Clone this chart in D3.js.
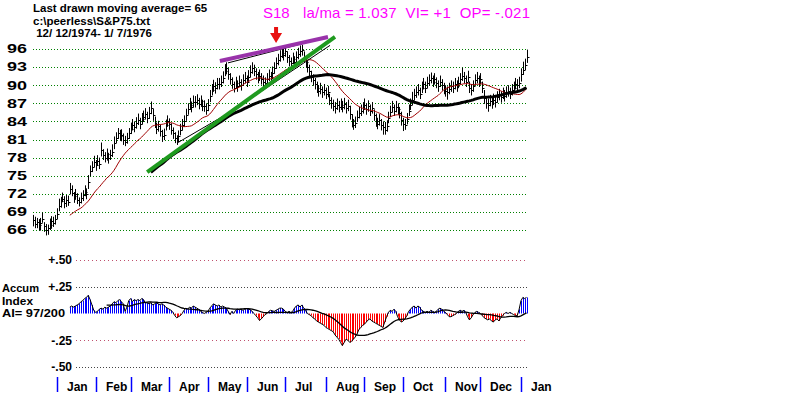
<!DOCTYPE html>
<html>
<head>
<meta charset="utf-8">
<script src="https://cdn.jsdelivr.net/npm/d3@7"></script>
<style>
  body { margin: 0; background: #fff; }
  svg { display: block; font-family: "Liberation Sans", Arial, sans-serif; }
</style>
</head>
<body>
<svg id="chart" width="800" height="393"></svg>
<script>
/* data */
const months = ["Jan", "Feb", "Mar", "Apr", "May", "Jun", "Jul", "Aug", "Sep", "Oct", "Nov", "Dec", "Jan"];
// trading-day index where each month starts
const monthStart = [13, 34, 53, 74, 95, 116, 137, 159, 180, 201, 224, 243, 265];
const priceTicks = [96, 93, 90, 87, 84, 81, 78, 75, 72, 69, 66];
const aiTicks = [0.5, 0.25, -0.25, -0.5];
const aiTickLabels = ["+.50", "+.25", "-.25", "-.50"];

// daily S&P bars, 12/12/1974 - 1/7/1976
const closes = [
  67.6,67.0,67.4,66.8,67.2,67.8,66.6,66.0,66.3,66.9,67.5,67.1,67.8,68.6,
  70.0,70.8,71.2,70.5,71.0,70.6,
  72.8,72.2,71.6,71.9,71.0,70.6,71.3,71.8,72.3,72.0,
  74.0,75.8,76.4,77.2,76.8,77.5,77.0,79.2,
  78.4,78.0,78.6,77.9,78.5,79.0,80.5,81.3,82.0,81.6,
  81.8,81.0,80.6,81.2,82.0,82.8,83.4,83.0,83.8,84.2,83.6,84.4,84.8,
  85.2,84.6,85.4,86.2,85.0,83.6,82.8,83.2,82.4,81.5,81.8,
  83.4,84.0,83.6,82.6,82.0,81.2,80.8,81.5,82.6,83.4,84.0,85.0,
  86.0,86.8,86.4,87.2,87.2,87.6,86.9,87.3,86.6,86.5,85.9,86.7,
  88.2,89.2,89.8,89.5,90.2,90.2,90.6,91.2,92.4,92.8,91.8,91.0,
  90.2,89.6,90.4,89.8,90.6,90.0,90.8,91.2,90.6,91.4,92.2,92.8,92.4,91.8,
  91.2,91.6,91.0,90.6,90.4,91.0,91.6,91.2,92.0,
  92.8,93.6,94.2,94.8,95.4,95.0,95.6,94.6,94.0,93.6,94.4,93.8,94.6,95.2,95.6,95.8,94.6,93.8,
  93.0,92.4,91.4,90.8,90.2,89.6,89.0,89.4,88.8,89.2,88.6,88.9,
  87.6,87.0,86.6,86.2,86.8,86.4,86.8,86.4,86.9,86.2,86.6,
  85.2,84.2,83.4,83.8,84.8,85.4,85.8,86.2,86.8,86.0,86.5,85.8,86.2,
  85.0,84.0,83.6,84.2,83.4,83.0,82.6,83.2,
  84.6,85.6,86.4,85.8,86.4,86.0,85.4,84.2,83.6,83.4,84.4,
  85.8,86.8,87.6,88.4,88.8,89.2,88.6,89.6,90.2,89.6,90.4,
  90.8,91.2,90.6,91.0,90.4,89.8,90.6,90.0,89.4,89.0,88.8,
  89.4,89.8,89.6,90.2,89.8,90.4,91.0,91.6,91.2,90.6,91.4,
  89.6,89.2,89.8,90.8,91.2,90.6,91.0,89.6,
  87.8,87.0,86.8,87.4,87.0,87.6,87.2,88.0,88.4,88.0,88.6,88.2,
  88.8,89.0,88.6,89.2,89.6,90.2,90.0,90.4,91.8,92.6,93.4,94.6
];
const highs = [
  68.5,68.2,68.0,67.8,68.0,68.9,67.3,67.0,66.9,67.9,68.3,68.2,68.5,69.6,
  71.2,71.5,72.2,71.6,71.8,71.7,
  73.8,73.4,72.3,72.8,72.1,71.4,72.2,72.6,73.4,72.9,
  75.1,76.7,77.4,78.3,77.6,78.4,78.0,80.5,
  79.4,78.9,79.5,78.8,79.3,80.2,81.5,82.2,82.9,82.6,
  82.7,82.0,81.6,82.1,82.9,83.8,84.4,84.0,84.7,85.3,84.6,85.4,85.8,
  86.2,85.6,86.4,87.3,86.1,84.8,83.8,84.1,83.4,82.6,82.8,
  84.3,85.0,84.5,83.7,83.0,82.2,81.7,82.5,83.6,84.4,85.0,86.1,
  87.0,87.9,87.3,88.3,88.2,88.5,87.9,88.3,87.6,87.5,87.0,87.7,
  89.2,90.2,90.9,90.5,91.2,91.2,91.6,92.3,93.5,93.8,92.8,92.0,
  91.3,90.6,91.4,90.8,91.6,91.0,91.8,92.2,91.6,92.5,93.3,93.8,93.4,92.8,
  92.2,92.6,92.0,91.6,91.3,92.0,92.6,92.2,93.1,
  93.8,94.6,95.2,95.8,96.4,96.0,96.6,95.6,95.0,94.6,95.4,94.8,95.6,96.2,96.6,96.7,95.6,94.8,
  94.0,93.4,92.4,91.8,91.2,90.6,90.0,90.4,89.8,90.2,89.6,89.9,
  88.6,88.0,87.6,87.2,87.8,87.4,87.8,87.4,87.9,87.2,87.6,
  86.6,85.2,84.4,84.8,85.8,86.4,86.8,87.2,87.8,87.0,87.5,86.8,87.2,
  86.0,85.3,84.6,85.2,84.4,84.0,83.9,84.2,
  85.6,86.6,87.4,86.8,87.4,87.0,86.4,85.6,84.6,84.4,85.4,
  86.8,87.8,88.9,89.4,89.8,90.2,89.6,90.6,91.2,90.6,91.4,
  91.8,92.1,91.6,92.0,91.3,90.8,91.6,91.0,90.4,90.0,89.8,
  90.4,90.8,90.6,91.2,90.8,91.4,92.0,92.9,92.2,91.6,92.4,
  90.6,90.2,90.8,91.8,92.2,91.6,92.0,90.6,
  89.2,88.0,87.8,88.4,88.0,88.6,88.2,89.0,89.4,89.0,89.6,89.2,
  89.8,90.0,89.6,90.2,90.6,91.2,91.0,91.4,92.8,93.9,94.4,95.9
];
const lows = [
  66.6,66.3,66.3,65.9,65.9,67.2,65.7,65.1,65.2,66.0,66.2,66.5,66.9,67.8,
  69.1,69.7,70.6,69.6,69.8,70.0,
  71.9,71.6,70.5,71.0,70.3,69.9,70.4,70.8,71.6,71.1,
  72.8,74.9,75.6,76.4,75.8,76.6,76.1,78.2,
  77.6,77.2,77.5,77.0,77.6,78.1,79.4,80.4,81.1,80.8,
  80.7,80.1,79.9,80.3,81.1,81.9,82.5,82.2,82.8,83.4,82.7,83.5,83.9,
  84.3,83.7,84.4,85.2,84.1,82.9,81.9,82.3,81.5,80.6,80.9,
  82.5,83.1,82.6,81.8,81.1,80.4,80.1,80.6,81.7,82.5,83.1,84.1,
  85.1,85.9,85.5,86.3,86.3,86.7,86.0,86.4,85.7,85.6,85.1,85.7,
  87.2,88.3,88.9,88.6,89.3,89.3,89.7,90.3,91.5,91.8,90.9,90.1,
  89.4,88.8,89.5,88.9,89.7,89.1,89.9,90.3,89.7,90.5,91.3,91.9,91.5,90.9,
  90.3,90.7,90.1,89.7,89.5,90.1,90.7,90.3,91.1,
  91.9,92.7,93.3,93.9,94.5,94.1,94.7,93.7,93.1,92.7,93.5,92.9,93.7,94.3,94.7,94.9,93.7,92.9,
  92.1,91.5,90.5,89.9,89.3,88.7,88.1,88.5,87.9,88.3,87.7,88.0,
  86.7,86.1,85.7,85.3,85.9,85.5,85.9,85.5,86.0,85.3,85.7,
  84.3,83.0,82.6,82.9,83.9,84.5,84.9,85.3,85.9,85.1,85.6,84.9,85.3,
  84.1,83.1,82.7,83.3,82.5,81.8,81.8,82.3,
  83.7,84.7,85.5,84.9,85.5,85.1,84.5,83.3,82.4,82.6,83.5,
  84.9,85.9,86.7,87.5,87.9,88.3,87.7,88.7,89.3,88.7,89.5,
  89.9,90.3,89.7,90.1,89.5,88.9,89.7,89.1,88.5,88.1,87.6,
  88.5,88.9,88.7,89.3,88.9,89.5,90.1,90.7,90.3,89.7,90.5,
  88.7,88.3,88.9,89.9,90.3,89.7,90.1,88.7,
  86.9,86.1,85.6,86.5,86.1,86.7,86.3,87.1,87.5,87.1,87.7,87.3,
  87.9,88.1,87.7,88.3,88.7,89.3,89.1,89.5,90.6,91.7,92.5,93.7
];

// accumulation index, starts at trading day 20
const aiStart = 20;
const accum = [
  0.06,0.07,0.06,0.07,
  0.08,0.09,0.11,0.12,0.14,0.15,0.17,
  0.13,0.08,0.03,0.01,0.02,
  0.04,0.05,0.04,0.06,0.05,0.06,0.07,
  0.09,0.11,0.10,0.12,0.13,0.11,0.09,
  0.02,0.06,0.12,0.14,0.11,0.13,0.12,
  0.13,0.12,0.14,0.13,0.10,
  0.10,0.09,0.10,0.08,0.09,0.10,0.09,0.08,0.09,0.08,0.06,
  0.05,0.04,0.03,0.01,
  -0.02,-0.04,-0.03,-0.02,0.00,
  0.03,0.05,0.04,0.06,0.05,0.07,0.06,0.05,0.04,
  0.02,0.01,0.00,0.01,0.02,
  0.05,0.07,0.09,0.08,0.07,0.08,0.06,0.07,0.06,0.05,
  0.02,-0.01,0.02,0.00,
  0.03,0.04,0.035,0.04,0.03,0.04,0.045,0.04,0.035,0.02,
  0.00,-0.02,-0.04,-0.065,-0.05,-0.03,-0.01,0.00,
  0.02,0.03,0.025,0.02,0.03,0.04,0.05,
  0.05,0.04,0.02,0.01,0.02,0.01,0.02,
  0.05,0.07,0.08,0.06,0.08,0.05,0.03,0.00,
  -0.01,-0.02,-0.04,-0.05,-0.07,-0.08,-0.09,-0.10,-0.11,-0.13,
  -0.14,-0.15,-0.16,-0.17,-0.20,-0.22,-0.24,-0.27,-0.30,-0.27,
  -0.24,-0.25,-0.27,-0.26,-0.24,-0.22,-0.19,-0.15,-0.13,-0.11,
  -0.10,-0.08,-0.06,-0.05,-0.07,-0.08,-0.09,-0.10,-0.11,-0.12,
  -0.13,-0.08,-0.03,0.01,0.03,0.02,0.04,0.02,-0.03,-0.06,
  -0.08,-0.07,-0.05,-0.02,
  0.02,0.04,0.06,0.07,0.05,0.07,0.06,0.03,0.02,
  0.01,0.02,0.01,0.03,0.02,0.01,0.02,
  0.04,0.05,0.04,0.02,0.01,
  -0.01,-0.03,-0.03,-0.02,-0.01,0.00,
  0.02,0.03,0.02,0.03,0.01,
  -0.03,-0.06,-0.04,-0.01,
  0.01,0.02,0.01,0.00,
  -0.02,-0.04,-0.05,-0.06,-0.05,-0.07,-0.08,-0.06,-0.05,-0.07,-0.04,-0.02,
  0.00,0.01,0.00,0.01,0.00,-0.01,-0.02,-0.02,
  0.04,0.12,0.15,0.14,0.15
];

// hand-drawn trend lines, [day, price]
const greenLine = [[62, 75.6], [164, 98.0]];
const purpleLine = [[101.5, 94.0], [160.2, 98.0]];
const thinLines = [
  [[78.2, 80.4], [108, 85.7], [161.3, 96.6]],
  [[105.9, 93.7], [147.7, 97.0]]
];
const signalDay = 132;
const signalPrice = 97.0;

/* helpers */
function movingAvg(vals, n) {
  return vals.map((v, i) => i < n - 1 ? null : d3.mean(vals.slice(i - n + 1, i + 1)));
}

/* chart */
const svg = d3.select("#chart");

const x = d3.scaleLinear().domain([0, closes.length - 1]).range([33, 526.5]);
const y = d3.scaleLinear().domain([66, 96]).range([230, 49]);
const ya = d3.scaleLinear().domain([-0.5, 0.5]).range([367, 260]);
const px = i => Math.round(x(i)) + 0.5;
const crisp = v => Math.round(v) + 0.5;

// header text
[["Last drawn moving average= 65", 12], ["c:\\peerless\\S&P75.txt", 24.5], [" 12/ 12/1974- 1/ 7/1976", 37]]
  .forEach(t => {
    svg.append("text").attr("x", 33).attr("y", t[1])
      .attr("font-size", 11.5).attr("font-weight", "bold")
      .style("white-space", "pre")
      .text(t[0]);
  });

svg.append("text").attr("x", 263).attr("y", 18)
  .attr("font-size", 15).attr("fill", "#f0f")
  .text("S18");
svg.append("text").attr("x", 303).attr("y", 18)
  .attr("font-size", 15).attr("fill", "#f0f")
  .attr("textLength", 227).attr("lengthAdjust", "spacing")
  .style("white-space", "pre")
  .text("la/ma = 1.037  VI= +1  OP= -.021");

// price grid
svg.append("g").selectAll("line")
  .data(priceTicks)
  .enter().append("line")
  .attr("x1", 33).attr("x2", 528)
  .attr("y1", d => crisp(y(d))).attr("y2", d => crisp(y(d)))
  .attr("stroke", "#008000")
  .attr("stroke-dasharray", "1,2");

svg.append("g").selectAll("text")
  .data(priceTicks)
  .enter().append("text")
  .attr("x", 27).attr("y", d => y(d))
  .attr("dy", "0.36em")
  .attr("text-anchor", "end")
  .attr("font-size", 12).attr("font-weight", "bold")
  .attr("textLength", 20).attr("lengthAdjust", "spacingAndGlyphs")
  .text(d => d);

// price bars
let bars = svg.append("g").attr("stroke", "#000");
bars.selectAll(".hl")
  .data(closes)
  .enter().append("line")
  .attr("class", "hl")
  .attr("x1", (d, i) => px(i)).attr("x2", (d, i) => px(i))
  .attr("y1", (d, i) => y(highs[i])).attr("y2", (d, i) => y(lows[i]));
bars.selectAll(".cl")
  .data(closes)
  .enter().append("line")
  .attr("class", "cl")
  .attr("x1", (d, i) => px(i)).attr("x2", (d, i) => px(i) + 2)
  .attr("y1", d => crisp(y(d))).attr("y2", d => crisp(y(d)));

// moving averages
const line = d3.line()
  .defined(d => d[1] != null)
  .x(d => x(d[0])).y(d => y(d[1]));

const ma21 = movingAvg(closes, 21).map((v, i) => [i, v]);
const ma65 = movingAvg(closes, 65).map((v, i) => [i, v]);

svg.append("path").datum(ma21)
  .attr("d", line)
  .attr("fill", "none").attr("stroke", "#a00000").attr("stroke-width", 1);
svg.append("path").datum(ma65)
  .attr("d", line)
  .attr("fill", "none").attr("stroke", "#000").attr("stroke-width", 3);

// trend lines
thinLines.forEach(pts => {
  svg.append("path").datum(pts)
    .attr("d", line)
    .attr("fill", "none").attr("stroke", "#000").attr("stroke-width", 1);
});
svg.append("path").datum(greenLine)
  .attr("d", line)
  .attr("fill", "none").attr("stroke", "#1f9a1f").attr("stroke-width", 4);
svg.append("path").datum(purpleLine)
  .attr("d", line)
  .attr("fill", "none").attr("stroke", "#9933aa").attr("stroke-width", 4);

// S18 arrow
(function() {
  let tx = x(signalDay), ty = y(signalPrice);
  svg.append("path")
    .attr("d", `M${tx - 2},${ty - 16} L${tx + 2},${ty - 16} L${tx + 2},${ty - 10} L${tx + 6},${ty - 10}
      L${tx},${ty} L${tx - 6},${ty - 10} L${tx - 2},${ty - 10} Z`)
    .attr("fill", "#e81010");
})();

// accumulation index panel
svg.append("g").selectAll("line")
  .data(aiTicks)
  .enter().append("line")
  .attr("x1", 76).attr("x2", 528)
  .attr("y1", d => crisp(ya(d))).attr("y2", d => crisp(ya(d)))
  .attr("stroke", (d, i) => i % 2 == 0 ? "#c0506e" : "#444")
  .attr("stroke-dasharray", (d, i) => i % 2 == 0 ? "1,3" : "1,2");

svg.append("g").selectAll("text")
  .data(aiTicks)
  .enter().append("text")
  .attr("x", 72).attr("y", d => ya(d))
  .attr("dy", "0.36em")
  .attr("text-anchor", "end")
  .attr("font-size", 12).attr("font-weight", "bold")
  .text((d, i) => aiTickLabels[i]);

[["Accum", 292, 37], ["Index", 304.7, 31], ["AI= 97/200", 317.4, 63]].forEach(t => {
  svg.append("text").attr("x", 2).attr("y", t[1])
    .attr("font-size", 11).attr("font-weight", "bold")
    .attr("textLength", t[2]).attr("lengthAdjust", "spacingAndGlyphs")
    .text(t[0]);
});

const aiPts = accum.map((v, i) => [i + aiStart, v]);

svg.append("g").selectAll("line")
  .data(aiPts)
  .enter().append("line")
  .attr("x1", d => px(d[0])).attr("x2", d => px(d[0]))
  .attr("y1", ya(0)).attr("y2", d => ya(d[1]))
  .attr("stroke", d => d[1] >= 0 ? "#0000ff" : "#ff0000");

const aiLine = d3.line()
  .defined(d => d[1] != null)
  .x(d => x(d[0])).y(d => ya(d[1]));

svg.append("path").datum(aiPts)
  .attr("d", aiLine)
  .attr("fill", "none").attr("stroke", "#000").attr("stroke-width", 1);

const aiMa = movingAvg(accum, 21).map((v, i) => [i + aiStart, v]);
svg.append("path").datum(aiMa)
  .attr("d", aiLine)
  .attr("fill", "none").attr("stroke", "#000").attr("stroke-width", 1.3);

// month axis
svg.append("g").selectAll("line")
  .data(monthStart)
  .enter().append("line")
  .attr("x1", d => px(d)).attr("x2", d => px(d))
  .attr("y1", 377).attr("y2", 392)
  .attr("stroke", "#0000ff").attr("stroke-width", 1.5);

svg.append("g").selectAll("text")
  .data(monthStart)
  .enter().append("text")
  .attr("x", d => Math.round(x(d)) + 10).attr("y", 391)
  .attr("font-size", 12).attr("font-weight", "bold")
  .text((d, i) => months[i]);
</script>
</body>
</html>
